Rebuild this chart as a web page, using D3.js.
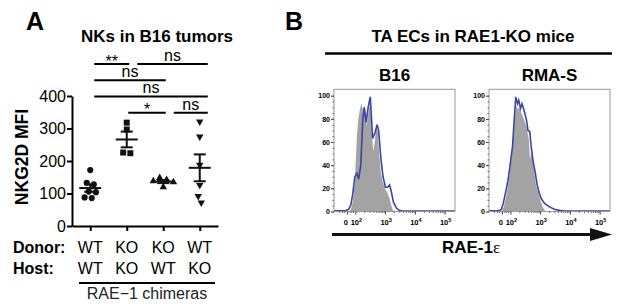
<!DOCTYPE html>
<html>
<head>
<meta charset="utf-8">
<script src="https://cdn.jsdelivr.net/npm/d3@7"></script>
<style>
  body { margin: 0; background: #fff; }
  svg { display: block; font-family: "Liberation Sans", Arial, sans-serif; }
</style>
</head>
<body>
<div id="chart"></div>
<script>
// ---- panel A : NKG2D MFI on NK cells in B16 tumors ----
const groupNames = ["WT/WT", "KO/KO", "KO/WT", "WT/KO"];
const donorLabels = ["WT", "KO", "KO", "WT"];
const hostLabels = ["WT", "KO", "WT", "KO"];
const wtwtMFI = [172, 133, 128, 106, 104, 88, 86];
const kokoMFI = [318, 297, 226, 224];
const kowtMFI = [148, 142, 138, 135, 120];
const wtkoMFI = [321, 275, 188, 126, 92, 72];
const mfiTicks = [0, 100, 200, 300, 400];
// significance brackets, row 0 is the top one
const comparisons = [
  {from: 0, to: 1, label: "**", row: 0},
  {from: 1, to: 3, label: "ns", row: 0},
  {from: 0, to: 2, label: "ns", row: 1},
  {from: 0, to: 3, label: "ns", row: 2},
  {from: 1, to: 2, label: "*", row: 3},
  {from: 2, to: 3, label: "ns", row: 3}
];

// ---- panel B : histograms, x in decades (log10 RAE-1e), y in % of max ----
const b16Control = [[1.78,0],[1.85,2],[1.91,8],[1.98,25],[2.05,65],[2.10,80],[2.15,88],[2.20,93],[2.25,88],[2.31,91],[2.38,74],[2.45,88],[2.50,92],[2.55,68],[2.60,52],[2.65,60],[2.70,73],[2.75,70],[2.80,50],[2.85,35],[2.91,26],[3.01,19],[3.08,16],[3.15,11],[3.21,5],[3.26,1],[3.35,0.5],[3.48,1],[3.58,0.5],[3.68,0]];
const b16Stain = [[1.28,0.5],[1.41,0.5],[1.55,0.5],[1.68,0.8],[1.78,2],[1.85,6],[1.91,15],[1.98,30],[2.05,33],[2.11,28],[2.18,40],[2.25,80],[2.30,90],[2.36,77],[2.43,90],[2.50,99],[2.58,63],[2.66,68],[2.73,75],[2.78,70],[2.86,45],[2.93,30],[3.01,21],[3.08,21],[3.15,23],[3.21,17],[3.28,8],[3.38,3],[3.48,1],[3.58,0.3],[5.35,0.3]];
const rmasControl = [[1.71,0],[1.78,4],[1.87,15],[1.98,33],[2.07,56],[2.15,82],[2.20,92],[2.25,88],[2.29,90],[2.37,85],[2.45,80],[2.54,73],[2.62,62],[2.66,45],[2.71,52],[2.78,38],[2.87,22],[2.98,12],[3.08,4],[3.18,0]];
const rmasStain = [[1.28,0.5],[1.48,0.5],[1.65,1],[1.70,2],[1.76,7],[1.85,18],[1.92,27],[1.98,38],[2.07,56],[2.12,76],[2.18,99],[2.24,93],[2.28,96],[2.34,89],[2.39,93],[2.45,88],[2.54,79],[2.59,70],[2.65,69],[2.70,56],[2.76,44],[2.84,33],[2.90,23],[2.98,15],[3.04,11],[3.15,7],[3.31,4],[3.48,2],[3.65,1],[3.81,0.3],[5.35,0.3]];
const histPanels = [
  {name: "B16", control: b16Control, stain: b16Stain},
  {name: "RMA-S", control: rmasControl, stain: rmasStain}
];
const pctTicks = [0, 20, 40, 60, 80, 100];
const fluorTicks = [0, 100, 1000, 10000, 100000];

var width = 617, height = 307;
var svg = d3.select("#chart").append("svg")
  .attr("width", width)
  .attr("height", height);

// panel letters
svg.append("text").attr("x", 26).attr("y", 30)
  .attr("font-size", 25).attr("font-weight", "bold").text("A");
svg.append("text").attr("x", 285).attr("y", 30)
  .attr("font-size", 25).attr("font-weight", "bold").text("B");

// ================= panel A =================
var gA = svg.append("g");
var y = d3.scaleLinear().domain([0, 400]).range([226, 96]);
var x = d3.scalePoint().domain(groupNames).range([72, 218]).padding(0.5);

gA.append("text").attr("x", 157).attr("y", 42)
  .attr("text-anchor", "middle").attr("font-size", 17).attr("font-weight", "bold")
  .text("NKs in B16 tumors");

var yAxis = gA.append("g")
  .attr("transform", "translate(72,0)")
  .call(d3.axisLeft(y).tickValues(mfiTicks).tickSize(5).tickSizeOuter(0).tickPadding(1));
yAxis.selectAll("path, line").attr("stroke", "#000").attr("stroke-width", 2);
yAxis.selectAll("text").attr("font-size", 16).attr("fill", "#000").attr("font-family", null);

var xAxis = gA.append("g")
  .attr("transform", "translate(0,226)")
  .call(d3.axisBottom(x).tickSize(5).tickSizeOuter(0).tickFormat(""));
xAxis.selectAll("path, line").attr("stroke", "#000").attr("stroke-width", 2);

gA.append("text")
  .attr("transform", "translate(28,157) rotate(-90)")
  .attr("text-anchor", "middle").attr("font-size", 17.5).attr("font-weight", "bold")
  .text("NKG2D MFI");

// dot positions: beeswarm with fixed y, spread sideways by collision
var symbols = [d3.symbolCircle, d3.symbolSquare, d3.symbolTriangle, d3.symbolTriangle];
var symbolSizes = [30, 36, 24, 24];
var allGroups = [wtwtMFI, kokoMFI, kowtMFI, wtkoMFI];

allGroups.forEach(function(vals, gi) {
  var xc = x(groupNames[gi]);
  var nodes = vals.map(v => ({v: v, x: xc, y: y(v), fy: y(v)}));
  var sim = d3.forceSimulation(nodes)
    .force("x", d3.forceX(xc).strength(0.15))
    .force("collide", d3.forceCollide(3.6))
    .stop();
  for (var i = 0; i < 200; i++) sim.tick();

  var rot = gi == 3 ? 180 : 0;
  gA.selectAll(".pt" + gi)
    .data(nodes)
    .join("path")
    .attr("class", "pt" + gi)
    .attr("d", d3.symbol().type(symbols[gi]).size(symbolSizes[gi]))
    .attr("transform", d => "translate(" + d.x + "," + d.y + ") rotate(" + rot + ")")
    .attr("fill", "#111");

  // mean +/- SEM
  var m = d3.mean(vals);
  var sem = d3.deviation(vals) / Math.sqrt(vals.length);
  var stat = gA.append("g").attr("stroke", "#111").attr("stroke-width", 2);
  stat.append("line").attr("x1", xc - 11).attr("x2", xc + 11).attr("y1", y(m)).attr("y2", y(m));
  stat.append("line").attr("x1", xc).attr("x2", xc).attr("y1", y(m - sem)).attr("y2", y(m + sem));
  stat.append("line").attr("x1", xc - 6).attr("x2", xc + 6).attr("y1", y(m + sem)).attr("y2", y(m + sem));
  stat.append("line").attr("x1", xc - 6).attr("x2", xc + 6).attr("y1", y(m - sem)).attr("y2", y(m - sem));
});

// significance bars
var rowY = d3.scaleLinear().domain([0, 3]).range([64, 112.7]);
comparisons.forEach(function(c) {
  // leave a gap where another bar in the same row ends at this group
  var shared = comparisons.some(o => o.row == c.row && o.to == c.from);
  var x1 = x(groupNames[c.from]) + (shared ? 10.5 : (c.from == 0 ? 4 : 1.5));
  var x2 = x(groupNames[c.to]) + (c.to == 3 ? 8 : 2.5);
  var ly = rowY(c.row);
  gA.append("line").attr("x1", x1).attr("x2", x2).attr("y1", ly).attr("y2", ly)
    .attr("stroke", "#000").attr("stroke-width", 2);
  var star = c.label.indexOf("*") >= 0;
  gA.append("text").attr("x", (x1 + x2) / 2).attr("y", star ? ly + 2.5 : ly - 3)
    .attr("text-anchor", "middle").attr("font-size", 16).text(c.label);
});

// donor / host table
gA.append("text").attr("x", 13).attr("y", 253).attr("font-size", 16).attr("font-weight", "bold").text("Donor:");
gA.append("text").attr("x", 13).attr("y", 274).attr("font-size", 16).attr("font-weight", "bold").text("Host:");
gA.selectAll(".donor").data(groupNames).join("text")
  .attr("class", "donor")
  .attr("x", d => x(d)).attr("y", 253).attr("text-anchor", "middle").attr("font-size", 16)
  .text((d, i) => donorLabels[i]);
gA.selectAll(".host").data(groupNames).join("text")
  .attr("class", "host")
  .attr("x", d => x(d)).attr("y", 274).attr("text-anchor", "middle").attr("font-size", 16)
  .text((d, i) => hostLabels[i]);
gA.append("line").attr("x1", 79).attr("x2", 215).attr("y1", 283).attr("y2", 283)
  .attr("stroke", "#000").attr("stroke-width", 2);
gA.append("text").attr("x", 147).attr("y", 299).attr("text-anchor", "middle")
  .attr("font-size", 16).attr("fill", "#222").text("RAE\u22121 chimeras");

// ================= panel B =================
var gB = svg.append("g");
gB.append("text").attr("x", 473).attr("y", 42)
  .attr("text-anchor", "middle").attr("font-size", 17).attr("font-weight", "bold")
  .text("TA ECs in RAE1-KO mice");
gB.append("line").attr("x1", 325).attr("x2", 612).attr("y1", 53.5).attr("y2", 53.5)
  .attr("stroke", "#000").attr("stroke-width", 2.5);

var boxW = 121;
var hx = d3.scaleLinear().domain([1.28, 5.35]).range([0, boxW]);
var hy = d3.scaleLinear().domain([0, 105.5]).range([211.5, 89.3]);
var zeroDecade = 1.713; // where 0 sits on the biexponential axis
var toDecade = v => v <= 0 ? zeroDecade : Math.log10(v);
var panelLeft = [334, 489];

var area = d3.area().x(d => hx(d[0])).y0(hy(0)).y1(d => hy(d[1]));
var line = d3.line().x(d => hx(d[0])).y(d => hy(d[1]));

// minor log ticks
var minorX = [];
for (var k = 2; k < 5; k++) for (var j = 2; j < 10; j++) minorX.push(j * Math.pow(10, k));
var minorNeg = [1.45, 1.55, 1.62, 1.80, 1.86, 1.92];

histPanels.forEach(function(p, pi) {
  var g = gB.append("g").attr("transform", "translate(" + panelLeft[pi] + ",0)");

  g.append("text").attr("x", boxW / 2).attr("y", 81)
    .attr("text-anchor", "middle").attr("font-size", 17).attr("font-weight", "bold")
    .text(p.name);

  g.append("path").datum(p.control).attr("d", area).attr("fill", "#a3a3a3");
  g.append("path").datum(p.stain).attr("d", line)
    .attr("fill", "none").attr("stroke", "#3947a0").attr("stroke-width", 1.6);

  g.append("rect").attr("x", 0).attr("y", hy(105.5)).attr("width", boxW).attr("height", hy(0) - hy(105.5))
    .attr("fill", "none").attr("stroke", "#999").attr("stroke-width", 1);

  // y axis
  var ya = g.append("g").call(d3.axisLeft(hy).tickValues(pctTicks).tickSize(3).tickPadding(1));
  ya.select(".domain").remove();
  ya.selectAll("line").attr("stroke", "#333");
  ya.selectAll("text").attr("font-size", 7).attr("font-weight", "bold").attr("font-family", null);
  var yaMinor = g.append("g").call(d3.axisLeft(hy).tickValues(d3.range(0, 101, 5)).tickSize(1.5).tickFormat(""));
  yaMinor.select(".domain").remove();
  yaMinor.selectAll("line").attr("stroke", "#666");

  // x axis
  var xa = g.append("g").attr("transform", "translate(0," + hy(0) + ")")
    .call(d3.axisBottom(hx).tickValues(fluorTicks.map(toDecade)).tickSize(3).tickFormat(""));
  xa.select(".domain").remove();
  xa.selectAll("line").attr("stroke", "#333");
  var xaMinor = g.append("g").attr("transform", "translate(0," + hy(0) + ")")
    .call(d3.axisBottom(hx).tickValues(minorX.map(toDecade).concat(minorNeg)).tickSize(1.5).tickFormat(""));
  xaMinor.select(".domain").remove();
  xaMinor.selectAll("line").attr("stroke", "#666");

  fluorTicks.forEach(function(v) {
    var t = g.append("text").attr("x", hx(toDecade(v)) + (v == 0 ? -1 : 1)).attr("y", 225)
      .attr("text-anchor", "middle").attr("font-size", 7.5).attr("font-weight", "bold");
    if (v == 0) {
      t.text("0");
    } else {
      t.append("tspan").text("10");
      t.append("tspan").attr("dy", -3).attr("font-size", 5.5).text(Math.round(Math.log10(v)));
    }
  });
});

// RAE-1e arrow
gB.append("line").attr("x1", 332).attr("x2", 592).attr("y1", 234.5).attr("y2", 234.5)
  .attr("stroke", "#111").attr("stroke-width", 3);
gB.append("path").attr("d", "M590,228L612,234.5L590,241Z").attr("fill", "#111");
var xl = gB.append("text").attr("x", 471).attr("y", 253).attr("text-anchor", "middle");
xl.append("tspan").attr("font-size", 17).attr("font-weight", "bold").text("RAE-1");
xl.append("tspan").attr("font-size", 17).attr("font-family", "'Liberation Serif', serif").text("\u03b5");
</script>
</body>
</html>
